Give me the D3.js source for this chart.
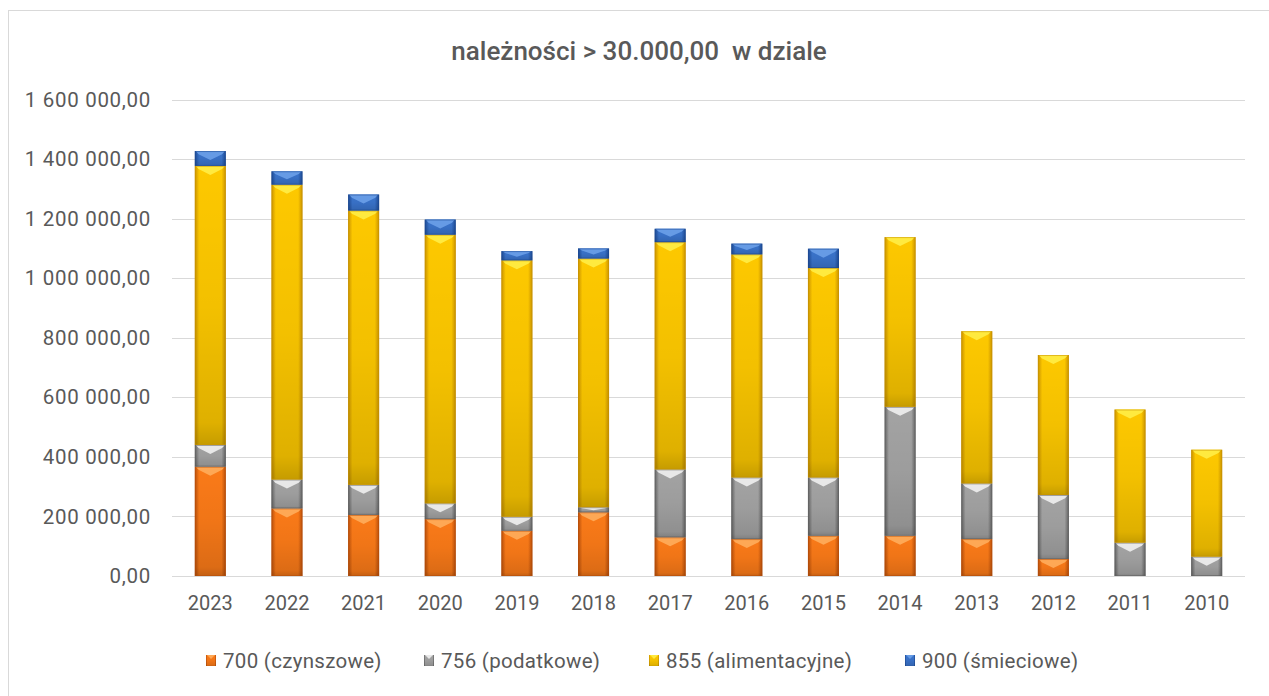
<!DOCTYPE html>
<html>
<head>
<meta charset="utf-8">
<script src="https://cdn.jsdelivr.net/npm/d3@7"></script>
<style>
  html, body { margin: 0; padding: 0; background: #fff; }
  svg { display: block; }
  text { font-family: Roboto, "Liberation Sans", sans-serif; fill: #595959; }
</style>
</head>
<body>
<svg id="chart" width="1269" height="696"></svg>
<script>
// ---- data ----
const years = ["2023","2022","2021","2020","2019","2018","2017","2016","2015","2014","2013","2012","2011","2010"];
const seriesNames = ["700 (czynszowe)", "756 (podatkowe)", "855 (alimentacyjne)", "900 (śmieciowe)"];
const v700 = [367000, 227000, 205000, 191000, 152000, 214000, 130000, 124000, 135000, 135000, 124000, 57000, 0, 0];
const v756 = [73000, 97000, 101000, 53000, 47000, 17000, 228000, 207000, 196000, 433000, 187000, 215000, 112000, 65000];
const v855 = [937000, 990000, 921000, 902000, 861000, 835000, 763000, 749000, 703000, 570000, 511000, 470000, 447000, 359000];
const v900 = [50000, 45000, 54000, 51000, 31000, 34000, 45000, 36000, 65000, 0, 0, 0, 0, 0];
const yTicks = [0, 200000, 400000, 600000, 800000, 1000000, 1200000, 1400000, 1600000];
const title = "należności > 30.000,00  w dziale";

// ---- styles ----
const palettes = [
  { edge: "#b84e0a", mid: "#fa7a18", hi: "#ffb060" },
  { edge: "#626262", mid: "#a3a3a3", hi: "#f4f4f4" },
  { edge: "#c99200", mid: "#fdc800", hi: "#fff04a" },
  { edge: "#1d4a94", mid: "#3a74cc", hi: "#6fa2ea" }
];

const svg = d3.select("#chart");
const defs = svg.append("defs");
palettes.forEach((p, i) => {
  const g = defs.append("linearGradient").attr("id", "grad" + i)
    .attr("x1", "0").attr("x2", "1").attr("y1", "0").attr("y2", "0");
  g.append("stop").attr("offset", "0").attr("stop-color", p.edge);
  g.append("stop").attr("offset", "0.14").attr("stop-color", p.mid);
  g.append("stop").attr("offset", "0.5").attr("stop-color", p.mid);
  g.append("stop").attr("offset", "0.86").attr("stop-color", p.mid);
  g.append("stop").attr("offset", "1").attr("stop-color", p.edge);
  const v = defs.append("linearGradient").attr("id", "vgrad" + i)
    .attr("x1", "0").attr("x2", "0").attr("y1", "0").attr("y2", "1");
  v.append("stop").attr("offset", "0").attr("stop-color", "#000").attr("stop-opacity", 0);
  v.append("stop").attr("offset", "0.5").attr("stop-color", "#000").attr("stop-opacity", 0.04);
  v.append("stop").attr("offset", "0.92").attr("stop-color", "#000").attr("stop-opacity", 0.12);
  v.append("stop").attr("offset", "1").attr("stop-color", "#000").attr("stop-opacity", 0.22);
});

// outer border
svg.append("rect").attr("x", 8.5).attr("y", 10.5).attr("width", 1300).attr("height", 700)
  .attr("fill", "none").attr("stroke", "#d9d9d9");

const plot = { left: 172, right: 1245, top: 99.5, bottom: 576 };

const x = d3.scaleBand().domain(years).range([plot.left, plot.right]).padding(0);
const y = d3.scaleLinear().domain([0, 1600000]).range([plot.bottom, plot.top]);
const barW = x.bandwidth() * 0.405;

// gridlines
svg.append("g").selectAll("line").data(yTicks).join("line")
  .attr("x1", plot.left).attr("x2", plot.right)
  .attr("y1", d => Math.round(y(d)) + 0.5).attr("y2", d => Math.round(y(d)) + 0.5)
  .attr("stroke", "#d9d9d9").attr("stroke-width", 1);

// y axis labels
const fmt = d => {
  const s = d3.format(",.2f")(d);
  return s.replace(/,/g, " ").replace(".", ",");
};
const yAxis = d3.axisLeft(y).tickValues(yTicks).tickFormat(fmt).tickSize(0).tickPadding(0);
const gy = svg.append("g").attr("transform", "translate(151,0)").call(yAxis);
gy.select(".domain").remove();
gy.selectAll("text").attr("font-family", "Roboto, sans-serif").attr("font-size", 20.5)
  .attr("letter-spacing", 0.7).attr("fill", "#595959");

// x axis labels
const xAxis = d3.axisBottom(x).tickSize(0).tickPadding(0);
const gx = svg.append("g").attr("transform", "translate(0,596)").call(xAxis);
gx.select(".domain").remove();
gx.selectAll("text").attr("font-family", "Roboto, sans-serif").attr("font-size", 20)
  .attr("fill", "#595959");

// stacked data
const rows = years.map((yr, i) => ({ year: yr, s0: v700[i], s1: v756[i], s2: v855[i], s3: v900[i] }));
const stack = d3.stack().keys(["s0", "s1", "s2", "s3"]);
const layers = stack(rows);

layers.forEach((layer, li) => {
  const g = svg.append("g");
  const segs = layer.map(d => ({ year: d.data.year, y0: d[0], y1: d[1] })).filter(d => d.y1 - d.y0 > 0);
  const bx = d => x(d.year) + (x.bandwidth() - barW) / 2;
  g.selectAll("rect.main").data(segs).join("rect").attr("class", "main")
    .attr("x", bx).attr("width", barW)
    .attr("y", d => y(d.y1)).attr("height", d => y(d.y0) - y(d.y1))
    .attr("fill", `url(#grad${li})`);
  g.selectAll("rect.shade").data(segs).join("rect").attr("class", "shade")
    .attr("x", bx).attr("width", barW)
    .attr("y", d => y(d.y1)).attr("height", d => y(d.y0) - y(d.y1))
    .attr("fill", `url(#vgrad${li})`);
  // top bevel highlight (chevron)
  g.selectAll("path.hi").data(segs).join("path").attr("class", "hi")
    .attr("d", d => {
      const x0 = bx(d), x1 = x0 + barW, t = y(d.y1);
      const h = Math.min(9, (y(d.y0) - y(d.y1)) * 0.6);
      const inset = barW * 0.12;
      return `M${x0 + 1},${t} L${x1 - 1},${t} L${x1 - inset},${t + h * 0.35} L${(x0 + x1) / 2},${t + h} L${x0 + inset},${t + h * 0.35} Z`;
    })
    .attr("fill", palettes[li].hi).attr("opacity", 0.85);
  g.selectAll("rect.edge").data(segs).join("rect").attr("class", "edge")
    .attr("x", d => bx(d) + 0.5).attr("width", barW - 1)
    .attr("y", d => y(d.y1) + 0.5).attr("height", d => Math.max(0, y(d.y0) - y(d.y1) - 1))
    .attr("fill", "none").attr("stroke", palettes[li].edge).attr("stroke-opacity", 0.55);
});

// title
svg.append("text").attr("x", 639).attr("y", 60).attr("text-anchor", "middle")
  .style("white-space", "pre")
  .attr("font-size", 26).attr("font-weight", 500).attr("fill", "#595959").text(title);

// legend
const legendX = [206, 424, 649, 905];
const lg = svg.append("g");
seriesNames.forEach((name, i) => {
  const gi = lg.append("g").attr("transform", `translate(${legendX[i]},655)`);
  gi.append("rect").attr("width", 10).attr("height", 11).attr("fill", `url(#grad${i})`);
  gi.append("rect").attr("width", 10).attr("height", 11).attr("fill", `url(#vgrad${i})`);
  gi.append("path").attr("d", "M1,0 L9,0 L5,4 Z").attr("fill", palettes[i].hi).attr("opacity", 0.85);
  gi.append("text").attr("x", 17).attr("y", 5.5).attr("dy", "0.35em")
    .attr("font-size", 20.5).attr("letter-spacing", 0.3).attr("fill", "#595959").text(name);
});
</script>
</body>
</html>
